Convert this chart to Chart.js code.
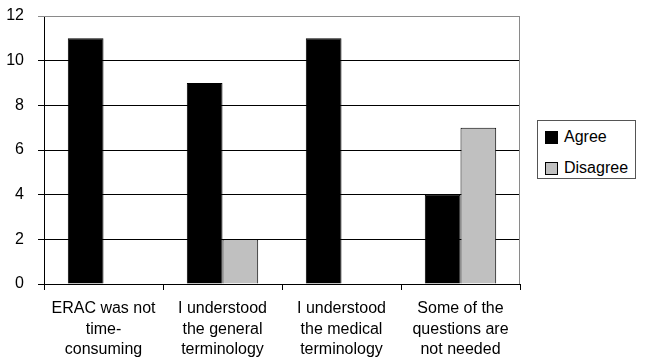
<!DOCTYPE html>
<html>
<head>
<meta charset="utf-8">
<script src="https://cdn.jsdelivr.net/npm/chart.js@4"></script>
<style>
  html, body { margin: 0; padding: 0; background: #fff; }
  #wrap { position: relative; width: 645px; height: 361px; }
  canvas { display: block; }
  #legend {
    position: absolute; left: 537px; top: 120px; width: 99px; height: 59px;
    border: 1px solid #555; box-sizing: border-box; background: #fff;
    font-family: "Liberation Sans", Arial, sans-serif; font-size: 16px; color: #000;
  }
  .item { position: absolute; left: 7px; height: 14px; line-height: 14px; white-space: nowrap; }
  .sw { display: inline-block; width: 11px; height: 11px; border: 1px solid #000; vertical-align: top; margin-right: 6px; margin-top: 1px; }
</style>
</head>
<body>
<div id="wrap">
  <canvas id="c" width="645" height="361"></canvas>
  <div id="legend"></div>
</div>
<script>
const categories = [
  ["ERAC was not", "time-", "consuming"],
  ["I understood", "the general", "terminology"],
  ["I understood", "the medical", "terminology"],
  ["Some of the", "questions are", "not needed"]
];
const seriesNames = ["Agree", "Disagree"];
const agree = [11, 9, 11, 4];
const disagree = [0, 2, 0, 7];
const yTicks = [0, 2, 4, 6, 8, 10, 12];
const colors = ["#000000", "#c0c0c0"];

const font = { family: "'Liberation Sans', Arial, sans-serif", size: 16, lineHeight: 1.3 };

// gray frame around the plotting area
const frame = {
  id: "frame",
  beforeDatasetsDraw(chart) {
    const { ctx, chartArea: a } = chart;
    ctx.save();
    ctx.strokeStyle = "#8a8a8a";
    ctx.lineWidth = 1;
    ctx.beginPath();
    ctx.moveTo(a.left, a.top + 0.5);
    ctx.lineTo(a.right - 0.5, a.top + 0.5);
    ctx.lineTo(a.right - 0.5, a.bottom);
    ctx.stroke();
    ctx.restore();
  }
};

const chart = new Chart(document.getElementById("c"), {
  type: "bar",
  data: {
    labels: categories,
    datasets: [
      { label: seriesNames[0], data: agree, backgroundColor: colors[0], borderColor: "#000", borderWidth: 1 },
      { label: seriesNames[1], data: disagree, backgroundColor: colors[1], borderColor: "#000", borderWidth: 1 }
    ]
  },
  options: {
    responsive: false,
    animation: false,
    layout: { padding: { top: 16, right: 125, left: 0, bottom: 0 } },
    plugins: { legend: { display: false }, tooltip: { enabled: false } },
    datasets: { bar: { categoryPercentage: 0.6, barPercentage: 1.0 } },
    scales: {
      x: {
        grid: { offset: true, drawOnChartArea: false, drawTicks: true, tickLength: 6, color: "#000" },
        border: { color: "#000" },
        ticks: { color: "#000", font: font, padding: 8, maxRotation: 0, autoSkip: false },
        afterFit(s) { s.height = 77; }
      },
      y: {
        min: 0, max: 12,
        afterBuildTicks(s) { s.ticks = yTicks.map(v => ({ value: v })); },
        grid: {
          color: ctx => (ctx.tick && ctx.tick.value === 12 ? "#8a8a8a" : "#000"),
          tickLength: 6
        },
        border: { color: "#000" },
        ticks: { color: "#000", font: { family: font.family, size: 16 }, padding: 14 },
        afterFit(s) { s.width = 44; s.paddingTop = 0; s.paddingBottom = 0; }
      }
    }
  },
  plugins: [frame]
});

// legend built from the series
const legend = document.getElementById("legend");
seriesNames.forEach((name, i) => {
  const it = document.createElement("div");
  it.className = "item";
  it.style.top = (9 + i * 31) + "px";
  it.innerHTML = '<span class="sw" style="background:' + colors[i] + '"></span>' + name;
  legend.appendChild(it);
});
</script>
</body>
</html>
